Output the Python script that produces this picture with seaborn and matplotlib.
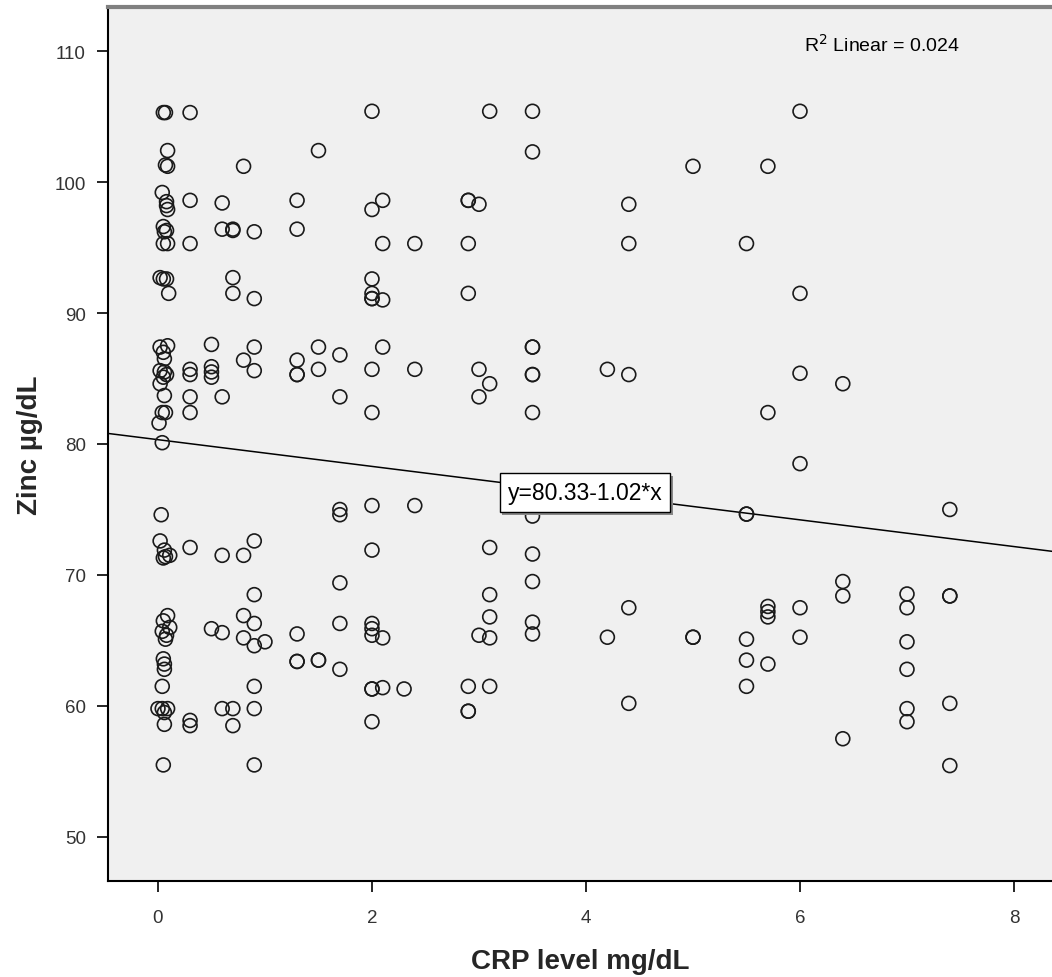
import numpy as np
import pandas as pd
import seaborn as sns
import matplotlib
matplotlib.use("Agg")
import matplotlib.pyplot as plt
import matplotlib.patheffects as pe

# ---- data ----
crp = [
    # near-zero cluster
    0.05, 0.07, 0.09, 0.07, 0.09, 0.04, 0.08, 0.08, 0.09, 0.05, 0.08, 0.06,
    0.05, 0.09, 0.02, 0.05, 0.08, 0.10, 0.02, 0.09, 0.05, 0.06, 0.02, 0.08,
    0.05, 0.06, 0.02, 0.06, 0.04, 0.07, 0.01, 0.04, 0.03, 0.02, 0.06, 0.07,
    0.05, 0.11, 0.09, 0.05, 0.11, 0.04, 0.08, 0.07, 0.05, 0.06, 0.06, 0.04,
    0.00, 0.09, 0.06, 0.04, 0.06, 0.05,
    # 0.3
    0.3, 0.3, 0.3, 0.3, 0.3, 0.3, 0.3, 0.3, 0.3, 0.3,
    # 0.5
    0.5, 0.5, 0.5, 0.5, 0.5,
    # 0.6
    0.6, 0.6, 0.6, 0.6, 0.6, 0.6,
    # 0.7
    0.7, 0.7, 0.7, 0.7, 0.7, 0.7,
    # 0.8
    0.8, 0.8, 0.8, 0.8, 0.8,
    # 0.9
    0.9, 0.9, 0.9, 0.9, 0.9, 0.9, 0.9, 0.9, 0.9, 0.9, 0.9,
    # 1.0
    1.0,
    # 1.3
    1.3, 1.3, 1.3, 1.3, 1.3, 1.3, 1.3, 1.3,
    # 1.5
    1.5, 1.5, 1.5, 1.5, 1.5,
    # 1.7
    1.7, 1.7, 1.7, 1.7, 1.7, 1.7, 1.7,
    # 2.0
    2.0, 2.0, 2.0, 2.0, 2.0, 2.0, 2.0, 2.0, 2.0, 2.0, 2.0, 2.0, 2.0, 2.0, 2.0, 2.0,
    # 2.1
    2.1, 2.1, 2.1, 2.1, 2.1, 2.1,
    # 2.3, 2.4
    2.3, 2.4, 2.4, 2.4,
    # 2.9
    2.9, 2.9, 2.9, 2.9, 2.9, 2.9, 2.9,
    # 3.0
    3.0, 3.0, 3.0, 3.0,
    # 3.1
    3.1, 3.1, 3.1, 3.1, 3.1, 3.1, 3.1,
    # 3.5
    3.5, 3.5, 3.5, 3.5, 3.5, 3.5, 3.5, 3.5, 3.5, 3.5, 3.5, 3.5,
    # 4.2
    4.2, 4.2,
    # 4.4
    4.4, 4.4, 4.4, 4.4, 4.4,
    # 5.0
    5.0, 5.0, 5.0,
    # 5.5
    5.5, 5.5, 5.5, 5.5, 5.5, 5.5,
    # 5.7
    5.7, 5.7, 5.7, 5.7, 5.7, 5.7,
    # 6.0
    6.0, 6.0, 6.0, 6.0, 6.0, 6.0,
    # 6.4
    6.4, 6.4, 6.4, 6.4,
    # 7.0
    7.0, 7.0, 7.0, 7.0, 7.0, 7.0,
    # 7.4
    7.4, 7.4, 7.4, 7.4, 7.4,
]

zinc = [
    # near-zero cluster
    105.3, 105.3, 102.4, 101.3, 101.2, 99.2, 98.5, 98.2, 97.9, 96.6, 96.3, 96.2,
    95.3, 95.3, 92.7, 92.6, 92.6, 91.5, 87.4, 87.5, 87.0, 86.5, 85.6, 85.3,
    85.1, 85.5, 84.6, 83.7, 82.4, 82.4, 81.6, 80.1, 74.6, 72.6, 71.9, 71.4,
    71.3, 71.5, 66.9, 66.5, 66.0, 65.7, 65.4, 65.1, 63.6, 63.2, 62.8, 61.5,
    59.8, 59.8, 59.5, 59.8, 58.6, 55.5,
    # 0.3
    105.3, 98.6, 95.3, 85.7, 85.3, 83.6, 82.4, 72.1, 58.9, 58.5,
    # 0.5
    87.6, 85.9, 85.5, 85.1, 65.9,
    # 0.6
    98.4, 96.4, 83.6, 71.5, 65.6, 59.8,
    # 0.7
    96.4, 92.7, 91.5, 59.8, 58.5, 96.3,
    # 0.8
    101.2, 86.4, 71.5, 66.9, 65.2,
    # 0.9
    96.2, 91.1, 87.4, 85.6, 72.6, 68.5, 66.3, 64.6, 61.5, 59.8, 55.5,
    # 1.0
    64.9,
    # 1.3
    98.6, 96.4, 86.4, 85.3, 85.3, 65.5, 63.4, 63.4,
    # 1.5
    102.4, 87.4, 85.7, 63.5, 63.5,
    # 1.7
    86.8, 83.6, 75.0, 74.6, 69.4, 66.3, 62.8,
    # 2.0
    105.4, 97.9, 92.6, 91.5, 91.1, 91.1, 85.7, 82.4, 75.3, 71.9, 66.3, 65.9,
    65.4, 61.3, 61.3, 58.8,
    # 2.1
    98.6, 95.3, 91.0, 87.4, 65.2, 61.4,
    # 2.3, 2.4
    61.3, 95.3, 85.7, 75.3,
    # 2.9
    98.6, 98.6, 95.3, 91.5, 61.5, 59.6, 59.6,
    # 3.0
    98.3, 85.7, 83.6, 65.4,
    # 3.1
    105.4, 84.6, 72.1, 68.5, 66.8, 65.2, 61.5,
    # 3.5
    105.4, 102.3, 87.4, 87.4, 85.3, 85.3, 82.4, 74.5, 71.6, 69.5, 66.4, 65.5,
    # 4.2
    85.7, 65.25,
    # 4.4
    98.3, 95.3, 85.3, 67.5, 60.2,
    # 5.0
    101.2, 65.25, 65.25,
    # 5.5
    95.3, 74.65, 74.65, 65.1, 63.5, 61.5,
    # 5.7
    101.2, 82.4, 67.6, 67.2, 66.8, 63.2,
    # 6.0
    105.4, 91.5, 85.4, 78.5, 67.5, 65.25,
    # 6.4
    84.6, 69.5, 68.4, 57.5,
    # 7.0
    68.55, 67.5, 64.9, 62.8, 59.8, 58.8,
    # 7.4
    75.0, 68.4, 68.4, 60.2, 55.45,
]

fit_intercept = 80.33
fit_slope = -1.02
r_squared = 0.024

x_ticks = [0, 2, 4, 6, 8]
y_ticks = [50, 60, 70, 80, 90, 100, 110]

df = pd.DataFrame({"CRP level mg/dL": crp, "Zinc µg/dL": zinc})

# ---- figure ----
sns.set_theme(style="ticks")
plt.rcParams["font.family"] = ["Liberation Sans", "DejaVu Sans"]

W, H = 1052, 978
fig = plt.figure(figsize=(W / 100, H / 100), dpi=100)
ax = fig.add_axes([108 / W, 1 - 882 / H, 1 - 108 / W, (882 - 8) / H])
ax.set_facecolor("#f0f0f0")

sns.scatterplot(data=df, x="CRP level mg/dL", y="Zinc µg/dL", ax=ax,
                marker="o", s=100, facecolor="none", edgecolor="#1a1a1a",
                linewidth=1.2, legend=False, zorder=3)

ax.set_xlim(-0.467, 8.355)
ax.set_ylim(46.64, 113.36)

# regression line
ax.axline((0, fit_intercept), slope=fit_slope, color="black", lw=1.1, zorder=2)

# equation label box
t = ax.text(3.99, 76.3, f"y={fit_intercept:.2f}-{abs(fit_slope):.2f}*x",
            ha="center", va="center", fontsize=16.5, color="black", zorder=5,
            bbox=dict(boxstyle="square,pad=0.35", fc="white", ec="black", lw=1.0))
t.get_bbox_patch().set_path_effects([
    pe.SimplePatchShadow(offset=(2, -2), shadow_rgbFace="#888888", alpha=1.0),
    pe.Normal()])

ax.text(0.737, 0.958, f"R$^2$ Linear = {r_squared:.3f}", transform=ax.transAxes,
        ha="left", va="center", fontsize=14, color="black")

ax.set_xticks(x_ticks)
ax.set_yticks(y_ticks)
ax.tick_params(axis="both", labelsize=13.5, length=8, width=1.2, color="black",
               labelcolor="#333333", direction="out")
ax.tick_params(axis="y", pad=8)
ax.tick_params(axis="x", pad=12)

for s in ["left", "bottom"]:
    ax.spines[s].set_color("black")
    ax.spines[s].set_linewidth(1.5)
ax.spines["right"].set_visible(False)
ax.spines["top"].set_color("#808080")
ax.spines["top"].set_linewidth(3)

ax.set_xlabel("CRP level mg/dL", fontsize=20, fontweight="bold", labelpad=16)
ax.set_ylabel("Zinc µg/dL", fontsize=20, fontweight="bold", labelpad=8)

fig.savefig("out.png", dpi=100, facecolor="white")
